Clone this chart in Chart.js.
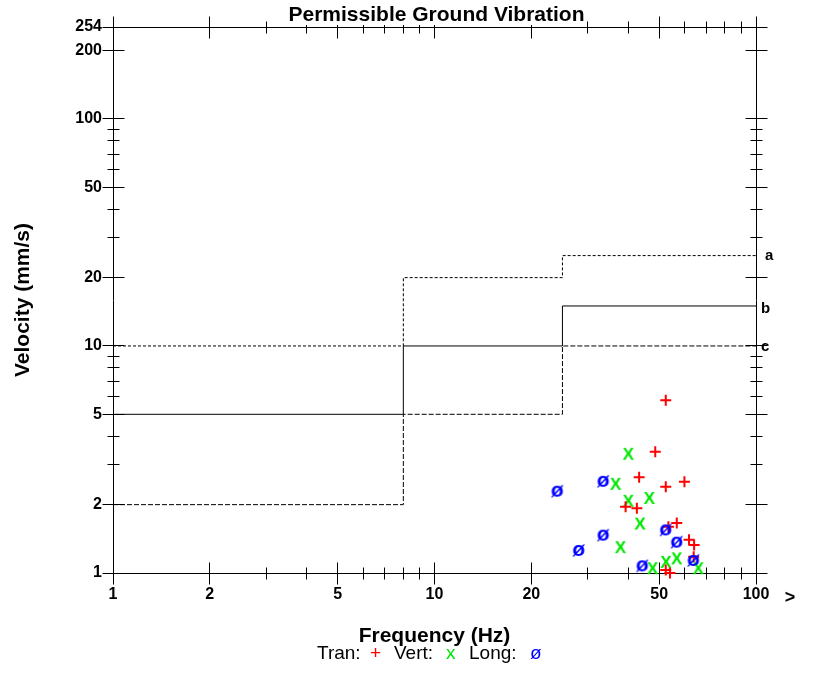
<!DOCTYPE html>
<html>
<head>
<meta charset="utf-8">
<script src="https://cdn.jsdelivr.net/npm/chart.js@4"></script>
<style>
  body { margin: 0; background: #fff; }
  #wrap { width: 813px; height: 677px; }
</style>
</head>
<body>
<div id="wrap"><canvas id="myChart" width="813" height="677"></canvas></div>
<script>
const FONT = "'Liberation Sans', Arial, sans-serif";

// tick labels
const xTickVals = [1, 2, 5, 10, 20, 50, 100];
const yTickVals = [1, 2, 5, 10, 20, 50, 100, 200, 254];

// limit lines (value holds until the next frequency)
const stepFreq = [1, 8, 25, 100];
const lineA = [10, 20, 25, 25];
const lineB = [5, 10, 15, 15];
const lineC = [2, 5, 10, 10];

// measured events
const tranFreq = [52.4, 48.6, 43.3, 52.4, 59.9, 39.3, 42.6, 56.7, 53.4, 61.9, 64.2, 64.0, 52.4, 54.0];
const tranVel  = [5.76, 3.42, 2.64, 2.40, 2.52, 1.96, 1.93, 1.66, 1.60, 1.40, 1.33, 1.18, 1.03, 1.00];
const vertFreq = [40.1, 36.6, 40.1, 46.6, 43.6, 37.9, 52.5, 56.7, 47.7, 66.2];
const vertVel  = [3.35, 2.47, 2.08, 2.14, 1.65, 1.30, 1.12, 1.16, 1.05, 1.05];
const longFreq = [24.1, 33.5, 33.5, 28.1, 52.4, 56.7, 44.3, 63.9];
const longVel  = [2.28, 2.52, 1.46, 1.25, 1.54, 1.36, 1.07, 1.13];

const RED = '#ff0000', GREEN = '#00e600', BLUE = '#0000ff';

const toPts = (xs, ys) => xs.map((x, i) => ({x: x, y: ys[i]}));

// small glyph images for the markers
const glyph = (ch, font, color, rise) => {
  const c = document.createElement('canvas');
  c.width = 22; c.height = 22;
  const g = c.getContext('2d');
  g.font = font;
  g.fillStyle = color;
  g.textAlign = 'center';
  g.textBaseline = 'alphabetic';
  g.fillText(ch, 11, 11 + rise);
  return c;
};
const xMark = glyph('X', 'bold 17px ' + FONT, GREEN, 6);
const oMark = glyph('\u00f8', 'bold 21px ' + FONT, BLUE, 5.4);

const minorVals = (max) => {
  const out = [];
  for (let d = 1; d <= max; d *= 10)
    for (let m = 1; m <= 9; m++) if (m * d <= max) out.push(m * d);
  return out;
};
const al = (p) => Math.round(p - 0.5) + 0.5;

const decor = {
  id: 'decor',
  afterDraw(chart) {
    const {ctx, chartArea: a, scales: {x, y}} = chart;
    const L = al(a.left), R = al(a.right), T = al(a.top), B = al(a.bottom);
    ctx.save();
    ctx.strokeStyle = '#000';
    ctx.lineWidth = 1;
    ctx.beginPath();
    ctx.moveTo(L, T); ctx.lineTo(R, T); ctx.lineTo(R, B);
    minorVals(100).forEach(v => {
      const px = al(x.getPixelForValue(v));
      const h = xTickVals.includes(v) ? 11 : 6;
      ctx.moveTo(px, B - h); ctx.lineTo(px, B + h);
      ctx.moveTo(px, T - h); ctx.lineTo(px, T + h);
    });
    minorVals(254).concat([254]).forEach(v => {
      const py = al(y.getPixelForValue(v));
      const h = yTickVals.includes(v) ? 11 : 6;
      ctx.moveTo(L - h, py); ctx.lineTo(L + h, py);
      ctx.moveTo(R - h, py); ctx.lineTo(R + h, py);
    });
    ctx.stroke();

    // title over a white box
    const cx = (a.left + a.right) / 2;
    ctx.font = 'bold 21px ' + FONT;
    const title = 'Permissible Ground Vibration';
    const tw = ctx.measureText(title).width;
    ctx.fillStyle = '#fff';
    ctx.fillRect(cx + 2 - tw / 2 - 2, 0, tw + 4, 25);
    ctx.fillStyle = '#000';
    ctx.textAlign = 'center';
    ctx.textBaseline = 'alphabetic';
    ctx.fillText(title, cx + 2, 21);

    // line labels
    ctx.font = 'bold 15px ' + FONT;
    ctx.textAlign = 'left';
    ctx.textBaseline = 'middle';
    ctx.fillText('a', a.right + 9, y.getPixelForValue(lineA[3]));
    ctx.fillText('b', a.right + 5, y.getPixelForValue(lineB[3]) + 3);
    ctx.fillText('c', a.right + 5, y.getPixelForValue(lineC[3]) + 1);

    ctx.font = 'bold 18px ' + FONT;
    ctx.textAlign = 'center';
    ctx.fillText('>', a.right + 34, 598);

    // legend line
    const parts = [['Tran:', '#000', 317], ['+', RED, 370], ['Vert:', '#000', 394],
                   ['x', GREEN, 446], ['Long:', '#000', 469], ['\u00f8', BLUE, 530]];
    ctx.font = '19px ' + FONT;
    ctx.textAlign = 'left';
    ctx.textBaseline = 'alphabetic';
    parts.forEach(p => {
      ctx.fillStyle = p[1];
      ctx.fillText(p[0], p[2], 659);
    });
    ctx.restore();
  }
};

const stepSet = (vals, dash) => ({
  data: toPts(stepFreq, vals),
  showLine: true,
  stepped: 'before',
  borderColor: '#000',
  borderWidth: 1,
  borderDash: dash,
  pointRadius: 0,
  order: 5
});

const setup = () => {
  const ctxt = document.getElementById('myChart').getContext('2d');
  new Chart(ctxt, {
    type: 'scatter',
    data: {
      datasets: [
        { label: 'Tran', data: toPts(tranFreq, tranVel), pointStyle: 'cross', pointRadius: 5.5,
          borderColor: RED, borderWidth: 2, clip: false, order: 1 },
        { label: 'Vert', data: toPts(vertFreq, vertVel), pointStyle: xMark, pointRadius: 6,
          clip: false, order: 2 },
        { label: 'Long', data: toPts(longFreq, longVel), pointStyle: oMark, pointRadius: 6,
          clip: false, order: 0 },
        stepSet(lineA, [3, 2]),
        stepSet(lineB, []),
        stepSet(lineC, [5, 2])
      ]
    },
    plugins: [decor],
    options: {
      responsive: false,
      animation: false,
      layout: { padding: { left: 0, right: 57, top: 27, bottom: 0 } },
      plugins: { legend: { display: false }, tooltip: { enabled: false }, title: { display: false } },
      scales: {
        x: {
          type: 'logarithmic', min: 1, max: 100,
          afterBuildTicks: (s) => { s.ticks = xTickVals.map(v => ({value: v})); },
          afterFit: (s) => { s.height = 104; },
          grid: { display: false, drawTicks: false, tickLength: 0 },
          border: { display: true, color: '#000', width: 1 },
          ticks: { callback: (v) => String(v), autoSkip: false, maxRotation: 0, padding: 12,
                   color: '#000', font: { family: FONT, size: 16, weight: 'bold' } },
          title: { display: true, text: 'Frequency (Hz)', color: '#000', padding: { top: 0, bottom: 28.5 },
                   font: { family: FONT, size: 21, weight: 'bold' } }
        },
        y: {
          type: 'logarithmic', min: 1, max: 254,
          afterBuildTicks: (s) => { s.ticks = yTickVals.map(v => ({value: v})); },
          afterFit: (s) => { s.width = 113; },
          grid: { display: false, drawTicks: false, tickLength: 0 },
          border: { display: true, color: '#000', width: 1 },
          ticks: { callback: (v) => String(v), autoSkip: false, padding: 11,
                   color: '#000', font: { family: FONT, size: 16, weight: 'bold' } },
          title: { display: true, text: 'Velocity (mm/s)', color: '#000', padding: { top: 11, bottom: 0 },
                   font: { family: FONT, size: 21, weight: 'bold' } }
        }
      }
    }
  });
};

window.addEventListener('DOMContentLoaded', setup);
</script>
</body>
</html>
